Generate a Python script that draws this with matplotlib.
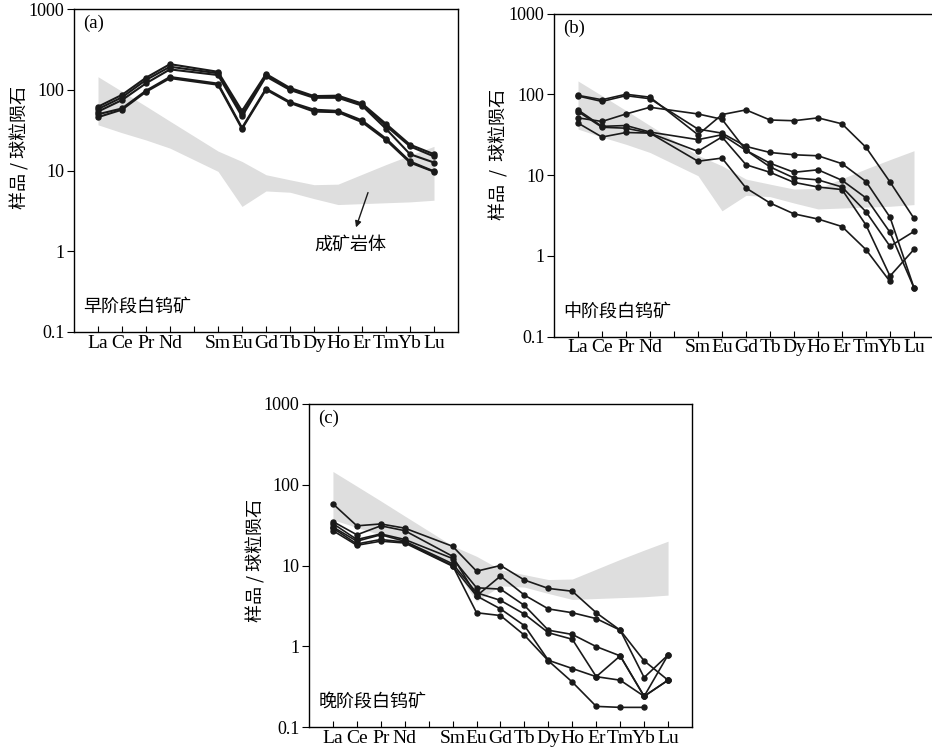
import numpy as np
import matplotlib.pyplot as plt
from matplotlib.ticker import FixedLocator, NullLocator, FuncFormatter

plt.rcParams['font.family'] = ['Liberation Serif', 'Noto Sans CJK SC']
CJK = ['Noto Sans CJK SC', 'DejaVu Sans']

# chondrite-normalised REE order (Pm kept as an empty slot)
ree = ['La', 'Ce', 'Pr', 'Nd', 'Pm', 'Sm', 'Eu', 'Gd', 'Tb', 'Dy', 'Ho', 'Er', 'Tm', 'Yb', 'Lu']
measured = [e for e in ree if e != 'Pm']

# ore-forming intrusion field (grey band)
field_upper = [146, 96, 63, 41, 17.5, 13, 8.9, 7.7, 6.7, 6.8, 9.0, 11.9, 15.5, 20]
field_lower = [37, 29.5, 24, 19, 9.8, 3.6, 5.6, 5.4, 4.5, 3.8, 3.9, 4.0, 4.1, 4.3]

# early-stage scheelite
early_stage = [
    [62, 87, 142, 209, 168, 55, 158, 106, 84, 85, 68, 38, 21, 16],
    [58, 81, 133, 194, 161, 50, 152, 102, 82, 83, 66, 36, 20, 15],
    [54, 75, 121, 180, 153, 47, 147, 100, 80, 80, 64, 33, 16, 12.6],
    [50, 59, 98, 145, 120, 34, 104, 71, 57, 55, 42, 25, 13, 9.8],
    [46, 57, 95, 140, 116, 33, 101, 69, 54, 53, 40, 24, 12.6, 9.7],
]

# middle-stage scheelite
middle_stage = [
    [97, 85.5, 100, 92, 31.5, 56, 64, 48, 47, 51, 43, 22, 8.2, 2.9],
    [95, 81.5, 96, 88, 37, 33, 22.6, 19, 17.8, 17.3, 13.8, 8.3, 3.0, 0.4],
    [51, 46, 57, 69, 57, 49, 20.2, 14, 10.8, 11.6, 8.6, 5.2, 1.95, 0.4],
    [64, 40, 41, 34, 27.4, 31.5, 20.2, 12.6, 9.2, 8.7, 7.1, 3.5, 1.31, 2.0],
    [61, 39, 38, 33, 19.6, 29.6, 13.4, 10.8, 8.1, 7.1, 6.6, 2.4, 0.56, 1.2],
    [44, 29.5, 33.6, 33, 14.8, 16.2, 6.9, 4.5, 3.3, 2.85, 2.3, 1.19, 0.48, np.nan],
]

# late-stage scheelite
late_stage = [
    [58, 31, 32.7, 29, 17.3, 8.5, 10, 6.6, 5.2, 4.8, 2.6, 1.58, 0.66, 0.38],
    [35, 24, 31, 27, 13, 4.2, 7.4, 4.3, 2.9, 2.6, 2.2, 1.58, 0.41, 0.78],
    [33, 21, 24.6, 21, 12.2, 5.3, 5.1, 3.2, 1.58, 1.4, 0.99, 0.76, 0.24, 0.78],
    [30, 20, 24, 20, 10.5, 4.6, 3.7, 2.5, 1.47, 1.22, 0.42, 0.76, 0.24, 0.38],
    [27, 17.8, 20, 19, 9.8, 4.2, 2.9, 1.8, 0.67, 0.53, 0.42, 0.38, 0.24, 0.38],
    [29, 18.5, 21, 19.5, 10, 2.6, 2.4, 1.37, 0.66, 0.36, 0.18, 0.175, 0.175, np.nan],
]

W, H = 932, 749
fig = plt.figure(figsize=(W / 100, H / 100), dpi=100)


def add_axes_px(left, top, right, bottom):
    return fig.add_axes([left / W, 1 - bottom / H, (right - left) / W, (bottom - top) / H])


def draw_panel(ax, series, tag, stage, lw):
    x = [ree.index(e) for e in measured]
    ax.fill_between(x, field_lower, field_upper, color='#dedede', lw=0, zorder=1)
    for s in series:
        ax.plot(x, s, color='#1a1a1a', lw=lw, marker='o', ms=3.6, zorder=3)
    ax.set_yscale('log')
    ax.set_ylim(0.1, 1000)
    ax.set_xlim(-1, 15)
    ax.set_xticks(range(len(ree)))
    ax.set_xticklabels([e if e != 'Pm' else '' for e in ree], fontsize=14)
    ax.tick_params(axis='x', direction='in', length=4, pad=2, width=0.8)
    ax.yaxis.set_major_locator(FixedLocator([0.1, 1, 10, 100, 1000]))
    ax.yaxis.set_minor_locator(NullLocator())
    ax.yaxis.set_major_formatter(FuncFormatter(lambda v, p: f'{v:g}'))
    ax.tick_params(axis='y', direction='out', length=5, pad=2, width=0.8, labelsize=13)
    for sp in ax.spines.values():
        sp.set_linewidth(1.0)
    ax.text(0.023, 0.955, tag, transform=ax.transAxes, fontsize=13.5,
            ha='left', va='center')
    ax.text(0.025, 0.078, stage, transform=ax.transAxes, fontsize=13,
            ha='left', va='center', family=CJK)


ax_a = add_axes_px(74, 9.3, 458, 332)
draw_panel(ax_a, early_stage, '(a)', '早阶段白钨矿', 1.5)
ax_a.annotate('', xy=(10.75, 1.98), xytext=(11.25, 5.35),
              arrowprops=dict(arrowstyle='-|>', color='#1a1a1a', lw=1.0,
                              mutation_scale=9, shrinkA=0, shrinkB=0))
ax_a.text(10.5, 1.22, '成矿岩体', fontsize=13, ha='center', va='center', family=CJK)

ax_b = add_axes_px(554, 13.5, 938, 336.5)
draw_panel(ax_b, middle_stage, '(b)', '中阶段白钨矿', 1.2)

ax_c = add_axes_px(309, 404, 692, 727)
draw_panel(ax_c, late_stage, '(c)', '晚阶段白钨矿', 1.2)

fig.text(20 / W, 1 - 147 / H, '样品 / 球粒陨石', rotation=90, fontsize=13,
         ha='center', va='center', family=CJK)
fig.text(499 / W, 1 - 154 / H, '样品  /  球粒陨石', rotation=90, fontsize=13,
         ha='center', va='center', family=CJK)
fig.text(256 / W, 1 - 560 / H, '样品 / 球粒陨石', rotation=90, fontsize=13,
         ha='center', va='center', family=CJK)

fig.savefig('out.png', dpi=100)
